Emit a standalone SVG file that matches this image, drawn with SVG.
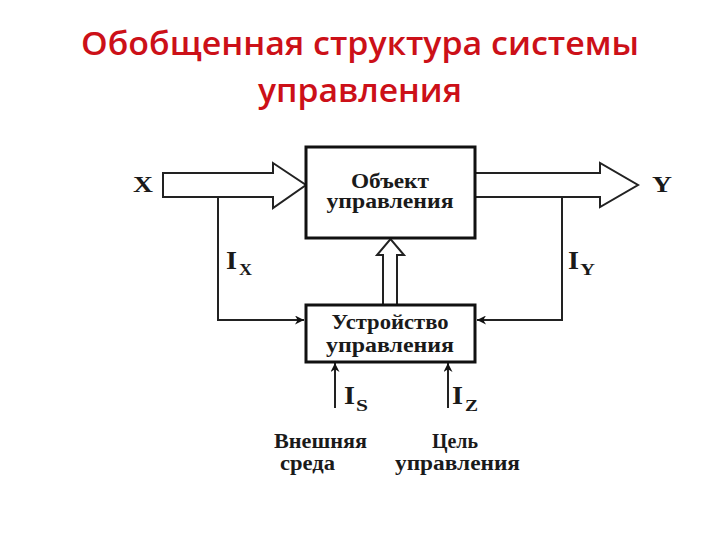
<svg xmlns="http://www.w3.org/2000/svg" width="720" height="540" viewBox="0 0 720 540">
  <defs>
    <style>
      .title { font-family: "Open Sans", "Noto Sans", sans-serif; font-size: 33px; font-weight: 600; fill: #cc1018; }
      .lbl { font-family: "Liberation Serif", "DejaVu Serif", serif; font-weight: bold; fill: #1a1a1a; }
      .box { fill: #ffffff; stroke: #111111; stroke-width: 3; }
      .hollow { fill: #ffffff; stroke: #222222; stroke-width: 2; stroke-linejoin: miter; }
      .wire { fill: none; stroke: #222222; stroke-width: 2; }
    </style>
    <marker id="ah" viewBox="0 0 10 10" refX="10" refY="5" markerWidth="9" markerHeight="9" markerUnits="userSpaceOnUse" orient="auto">
      <path d="M0,0 L10,5 L0,10 L3,5 Z" fill="#111111"/>
    </marker>
  </defs>
  <rect width="720" height="540" fill="#ffffff"/>

  <g id="title">
    <text class="title" x="360" y="55" text-anchor="middle" textLength="558" lengthAdjust="spacingAndGlyphs">Обобщенная структура системы</text>
    <text class="title" x="360" y="102" text-anchor="middle" textLength="204" lengthAdjust="spacingAndGlyphs">управления</text>
  </g>

  <g id="connectors">
    <path id="arrow-x" class="hollow" d="M163,173 H273 V163 L306,185 L273,208 V197 H163 Z"/>
    <path id="arrow-y" class="hollow" d="M476,173 H600 V163 L638,185 L600,207 V197 H476"/>
    <path id="arrow-u" class="hollow" d="M383,305 V255 H377 L390.5,239 L404,255 H397 V305"/>
    <path id="wire-ix" class="wire" d="M218,197 V320 H304" marker-end="url(#ah)"/>
    <path id="wire-iy" class="wire" d="M562,197 V320 H477" marker-end="url(#ah)"/>
    <path id="wire-is" class="wire" d="M335,408 V363" marker-end="url(#ah)"/>
    <path id="wire-iz" class="wire" d="M448,408 V363" marker-end="url(#ah)"/>
  </g>

  <g id="object">
    <rect class="box" x="306" y="147" width="169" height="91"/>
    <text class="lbl" x="390" y="188" font-size="20" text-anchor="middle" textLength="78" lengthAdjust="spacingAndGlyphs">Объект</text>
    <text class="lbl" x="390" y="208" font-size="20" text-anchor="middle" textLength="127" lengthAdjust="spacingAndGlyphs">управления</text>
  </g>

  <g id="controller">
    <rect class="box" x="306" y="305" width="169" height="57"/>
    <text class="lbl" x="390" y="329" font-size="20" text-anchor="middle" textLength="117" lengthAdjust="spacingAndGlyphs">Устройство</text>
    <text class="lbl" x="390" y="352" font-size="20" text-anchor="middle" textLength="128" lengthAdjust="spacingAndGlyphs">управления</text>
  </g>

  <g id="label-x">
    <text class="lbl" x="133" y="192" font-size="23" textLength="20" lengthAdjust="spacingAndGlyphs">X</text>
  </g>
  <g id="label-y">
    <text class="lbl" x="652" y="192" font-size="23" textLength="20" lengthAdjust="spacingAndGlyphs">Y</text>
  </g>
  <g id="label-ix">
    <text class="lbl" x="226" y="269" font-size="25" textLength="11" lengthAdjust="spacingAndGlyphs">I</text>
    <text class="lbl" x="239" y="275" font-size="16" textLength="13" lengthAdjust="spacingAndGlyphs">X</text>
  </g>
  <g id="label-iy">
    <text class="lbl" x="568" y="269" font-size="25" textLength="11" lengthAdjust="spacingAndGlyphs">I</text>
    <text class="lbl" x="580" y="275" font-size="16" textLength="15" lengthAdjust="spacingAndGlyphs">Y</text>
  </g>
  <g id="label-is">
    <text class="lbl" x="344" y="404" font-size="25" textLength="11" lengthAdjust="spacingAndGlyphs">I</text>
    <text class="lbl" x="356" y="411" font-size="16" textLength="12" lengthAdjust="spacingAndGlyphs">S</text>
  </g>
  <g id="label-iz">
    <text class="lbl" x="452" y="404" font-size="25" textLength="11" lengthAdjust="spacingAndGlyphs">I</text>
    <text class="lbl" x="465" y="411" font-size="16" textLength="13" lengthAdjust="spacingAndGlyphs">Z</text>
  </g>

  <g id="environment">
    <text class="lbl" x="274" y="448" font-size="20" textLength="93" lengthAdjust="spacingAndGlyphs">Внешняя</text>
    <text class="lbl" x="280" y="470" font-size="20" textLength="55" lengthAdjust="spacingAndGlyphs">среда</text>
  </g>
  <g id="goal">
    <text class="lbl" x="432" y="448" font-size="20" textLength="46" lengthAdjust="spacingAndGlyphs">Цель</text>
    <text class="lbl" x="395" y="470" font-size="20" textLength="125" lengthAdjust="spacingAndGlyphs">управления</text>
  </g>
</svg>
